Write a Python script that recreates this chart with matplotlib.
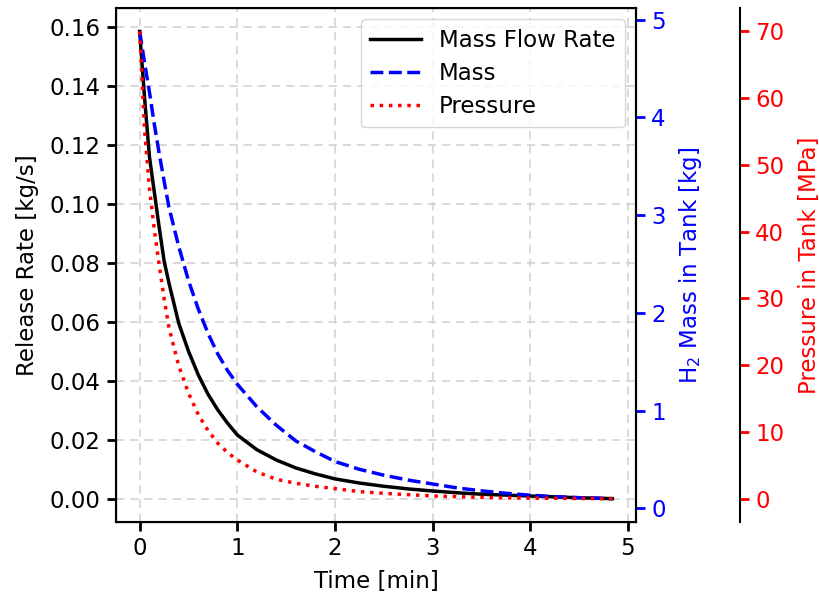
import matplotlib

matplotlib.use("Agg")
import matplotlib.pyplot as plt

# time since start of release [min]
time_min = [0.0, 0.05, 0.1, 0.15, 0.2, 0.25, 0.3, 0.4, 0.5, 0.6, 0.7, 0.8, 0.9, 1.0,
            1.2, 1.4, 1.6, 1.8, 2.0, 2.25, 2.5, 2.75, 3.0, 3.25, 3.5, 3.75, 4.0,
            4.25, 4.5, 4.84]
# mass flow rate [kg/s]
mdot = [0.1585, 0.136, 0.116, 0.104, 0.092, 0.0807, 0.0731, 0.0595, 0.0500, 0.0420,
        0.0354, 0.0301, 0.0256, 0.0216, 0.0166, 0.0131, 0.0104, 0.0084, 0.0067,
        0.0053, 0.0042, 0.0033, 0.0026, 0.0020, 0.0015, 0.0012, 0.0009, 0.0006,
        0.0003, 0.0]
# H2 mass in tank [kg]
mass = [4.88, 4.56, 4.26, 3.93, 3.63, 3.35, 3.08, 2.68, 2.33, 2.04, 1.79, 1.58, 1.41,
        1.27, 1.04, 0.85, 0.69, 0.58, 0.48, 0.40, 0.34, 0.29, 0.25, 0.21, 0.18,
        0.155, 0.135, 0.12, 0.11, 0.10]
# tank pressure [MPa]
pressure = [70.0, 55.3, 46.5, 40.3, 35.0, 30.0, 25.6, 19.9, 15.8, 12.6, 10.2, 8.3,
            6.9, 5.8, 4.0, 2.9, 2.3, 1.85, 1.5, 1.05, 0.8, 0.6, 0.4, 0.3, 0.2, 0.13,
            0.08, 0.05, 0.02, 0.0]

plt.rcParams["font.size"] = 16.5

fig = plt.figure(figsize=(8.2, 5.97), dpi=100)
ax = fig.add_axes([0.1415, 0.1256, 0.6341, 0.861])

grid_style = dict(color="lightgray", linestyle=(0, (5, 3.5)), linewidth=1.2)
ax.grid(True, **grid_style)
ax.set_axisbelow(True)

lw = 2.5
tick_kw = dict(width=2, length=6.5, pad=4.5)

l1, = ax.plot(time_min, mdot, color="black", linestyle="-", lw=lw, label="Mass Flow Rate")
ax.set_xlabel("Time [min]", labelpad=7)
ax.set_ylabel("Release Rate [kg/s]", labelpad=7.5)
ax.tick_params(**tick_kw)
for s in ax.spines.values():
    s.set_linewidth(1.5)

ax2 = ax.twinx()
l2, = ax2.plot(time_min, mass, color="blue", linestyle="--", lw=lw, label="Mass")
ax2.set_ylabel("H$_2$ Mass in Tank [kg]", color="blue", labelpad=8)
ax2.tick_params(axis="y", colors="blue", **tick_kw)
ax2.spines["right"].set_color("black")
ax2.spines["right"].set_linewidth(1.5)

ax3 = ax.twinx()
ax3.spines["right"].set_position(("axes", 1.2))
l3, = ax3.plot(time_min, pressure, color="red", linestyle=":", lw=lw, label="Pressure")
ax3.set_ylabel("Pressure in Tank [MPa]", color="red", labelpad=10)
ax3.tick_params(axis="y", colors="red", **tick_kw)
ax3.spines["right"].set_color("black")
ax3.spines["right"].set_linewidth(1.5)

ax.legend(handles=[l1, l2, l3], loc="upper right", handlelength=2.2, labelspacing=0.45)

fig.savefig("out.png", dpi=100)
